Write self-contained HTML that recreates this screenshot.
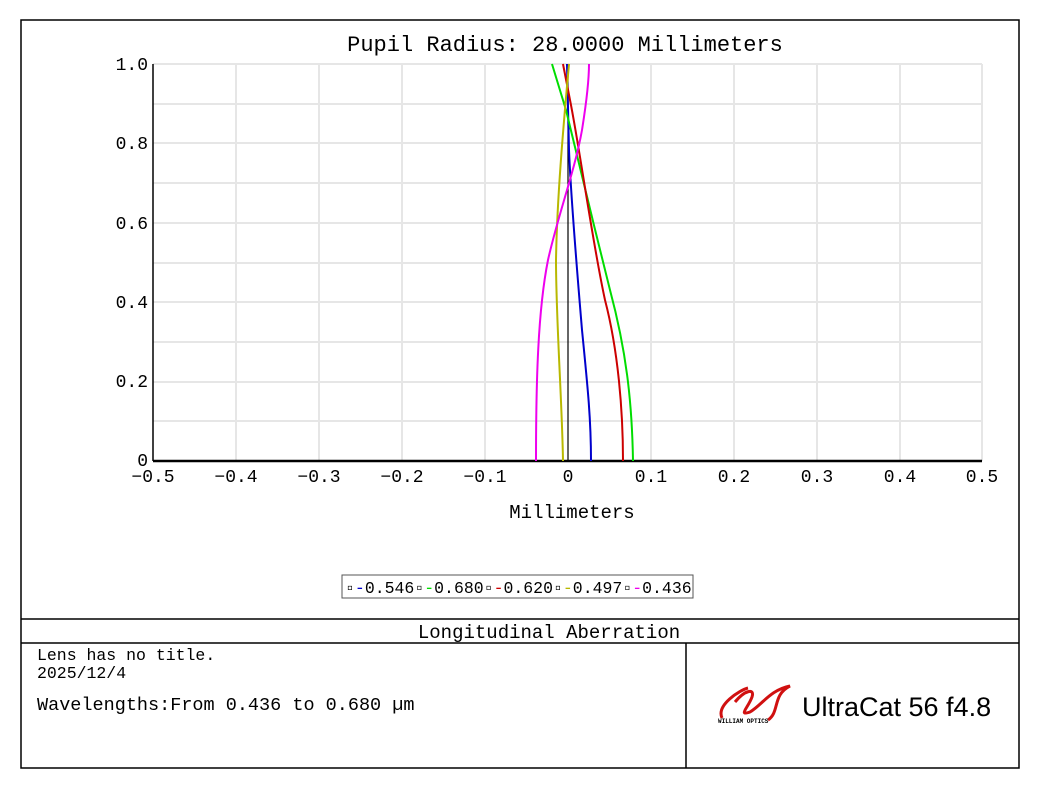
<!DOCTYPE html>
<html><head><style>
body{margin:0;background:#fff;}
svg text{font-family:"Liberation Mono","DejaVu Sans Mono",monospace;}
</style></head><body>
<svg width="1040" height="790" xmlns="http://www.w3.org/2000/svg">
<rect x="21" y="20" width="998" height="748" fill="#fff" stroke="#000" stroke-width="1.5"/>
<text x="565" y="51" font-size="22" text-anchor="middle">Pupil Radius: 28.0000 Millimeters</text>
<g stroke="#e6e6e6" stroke-width="2">
<line x1="236" y1="64" x2="236" y2="461"/><line x1="319" y1="64" x2="319" y2="461"/><line x1="402" y1="64" x2="402" y2="461"/><line x1="485" y1="64" x2="485" y2="461"/><line x1="651" y1="64" x2="651" y2="461"/><line x1="734" y1="64" x2="734" y2="461"/><line x1="817" y1="64" x2="817" y2="461"/><line x1="900" y1="64" x2="900" y2="461"/><line x1="982" y1="64" x2="982" y2="461"/>
<line x1="153" y1="64" x2="982" y2="64"/><line x1="153" y1="104" x2="982" y2="104"/><line x1="153" y1="143" x2="982" y2="143"/><line x1="153" y1="183" x2="982" y2="183"/><line x1="153" y1="223" x2="982" y2="223"/><line x1="153" y1="263" x2="982" y2="263"/><line x1="153" y1="302" x2="982" y2="302"/><line x1="153" y1="342" x2="982" y2="342"/><line x1="153" y1="382" x2="982" y2="382"/><line x1="153" y1="421" x2="982" y2="421"/>
</g>
<line x1="153" y1="64" x2="153" y2="461" stroke="#000" stroke-width="1.5"/>
<line x1="153" y1="461" x2="982" y2="461" stroke="#000" stroke-width="2.5"/>
<line x1="568" y1="64" x2="568" y2="461" stroke="#000" stroke-width="1.2"/>
<g font-size="18" text-anchor="end">
<text x="148" y="70">1.0</text><text x="148" y="149">0.8</text><text x="148" y="229">0.6</text><text x="148" y="308">0.4</text><text x="148" y="387">0.2</text><text x="148" y="466">0</text>
</g>
<g font-size="18" text-anchor="middle">
<text x="153" y="482">−0.5</text><text x="236" y="482">−0.4</text><text x="319" y="482">−0.3</text><text x="402" y="482">−0.2</text><text x="485" y="482">−0.1</text><text x="568" y="482">0</text><text x="651" y="482">0.1</text><text x="734" y="482">0.2</text><text x="817" y="482">0.3</text><text x="900" y="482">0.4</text><text x="982" y="482">0.5</text>
<text x="572" y="518" font-size="19">Millimeters</text>
</g>
<g fill="none" stroke-width="2">
<path stroke="#0000cc" d="M591,461 C591,420 588,390 582,330 C577,270 571,200 569,150 L567,64"/>
<path stroke="#00dd00" d="M633,461 C632,400 626,350 610,290 C595,230 578,160 566,110 L552,64"/>
<path stroke="#cc0000" d="M623,461 C623,410 618,350 605,300 C592,240 580,150 570,100 L563,64"/>
<path stroke="#b8b800" d="M563,461 C562,400 556,320 556,260 C557,200 563,130 569,64"/>
<path stroke="#ee00ee" d="M536,461 C536,380 538,310 548,260 C558,215 575,170 582,130 C586,105 589,80 589,64"/>
</g>
<rect x="342" y="575" width="351" height="23" fill="#fff" stroke="#555"/>
<text x="345" y="593" font-size="16.5"><tspan>▫</tspan><tspan fill="#0000cc">-</tspan>0.546<tspan>▫</tspan><tspan fill="#00dd00">-</tspan>0.680<tspan>▫</tspan><tspan fill="#cc0000">-</tspan>0.620<tspan>▫</tspan><tspan fill="#b8b800">-</tspan>0.497<tspan>▫</tspan><tspan fill="#ee00ee">-</tspan>0.436</text>
<line x1="21" y1="619" x2="1019" y2="619" stroke="#000" stroke-width="1.5"/>
<line x1="21" y1="643" x2="1019" y2="643" stroke="#000" stroke-width="1.5"/>
<line x1="686" y1="643" x2="686" y2="768" stroke="#000" stroke-width="1.5"/>
<text x="549" y="638" font-size="19" text-anchor="middle">Longitudinal Aberration</text>
<text x="37" y="660" font-size="16.5">Lens has no title.</text>
<text x="37" y="678" font-size="16.5">2025/12/4</text>
<text x="37" y="710" font-size="18.5">Wavelengths:From 0.436 to 0.680 µm</text>
<path d="M722,718 C716,705 740,690 748,688 M735,702 C745,690 755,688 752,697 C748,708 738,716 750,712 C762,705 770,690 790,686 C772,695 780,712 768,720" fill="none" stroke="#d01010" stroke-width="3"/>
<text x="718" y="723" font-size="6" font-weight="bold">WILLIAM OPTICS</text>
<text x="802" y="716" font-size="27" style="font-family:'Liberation Sans',sans-serif">UltraCat 56 f4.8</text>
</svg>
</body></html>
